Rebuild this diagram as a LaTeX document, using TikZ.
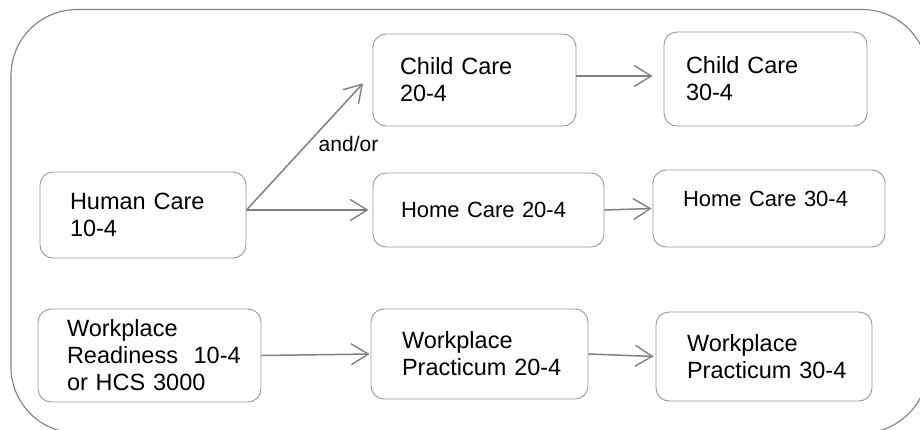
\documentclass[tikz,border=0pt]{standalone}
\usepackage{fontspec}
\setmainfont{Liberation Sans}
\usepackage{xcolor}
\usepackage{tikz}
\usetikzlibrary{arrows.meta}

\definecolor{linegray}{RGB}{128,128,128}
\definecolor{boxgray}{RGB}{150,150,150}

\begin{document}
\begin{tikzpicture}[x=1pt,y=-1pt,
    course/.style={draw=boxgray, line width=0.9pt, rounded corners=13pt, align=left,
      inner xsep=0pt, inner ysep=0pt, font=\fontsize{23.5}{27}\selectfont,
      execute at begin node={\leftskip=#1\relax}},
    course/.default=29pt,
    flow/.style={draw=linegray, line width=1.5pt,
      -{Straight Barb[length=17pt,width=21pt,line width=1.4pt]}}]

    \useasboundingbox (0,0) rectangle (920,429);
    \clip (0,0) rectangle (920,429);

    \draw[draw=linegray, line width=1.1pt, rounded corners=66pt] (11,9.5) rectangle (928,433);

    \node[course=30pt, text width=206pt, minimum height=86pt] (human) at (143,215) {Human Care\\10-4};

    \node[course=27pt, text width=203pt, minimum height=92pt] (child20) at (474.5,80) {Child Care\\20-4};
    \node[course=22pt, text width=203pt, minimum height=94pt] (child30) at (765.5,79) {Child Care\\30-4};

    \node[course=28pt, font=\fontsize{22}{27}\selectfont, text width=231pt, minimum height=74pt] (home20) at (488.5,210) {Home Care 20-4};
    \node[course=30pt, font=\fontsize{22}{27}\selectfont, text width=232pt, minimum height=77pt, text depth=19pt] (home30) at (769,208.5) {Home Care 30-4};

    \node[course=29pt, text width=223pt, minimum height=93pt] (ready) at (149.5,355.5) {Workplace\\Readiness\ \ 10-4\\or HCS 3000};
    \node[course=31pt, text width=217pt, minimum height=90pt] (prac20) at (479.5,354) {Workplace\\Practicum 20-4};
    \node[course=31pt, text width=216pt, minimum height=89pt] (prac30) at (764,356.5) {Workplace\\Practicum 30-4};

    \draw[flow, shorten >=14pt] (human.east |- home20.west) -- ([yshift=7pt]child20.west)
        node[pos=0.48, anchor=west, inner sep=0pt, xshift=11pt, font=\fontsize{21}{25}\selectfont] (andor) {and/or};
    \draw[flow, shorten >=4pt] (human.east |- home20.west) -- (home20.west);
    \draw[flow, shorten >=11pt] ([yshift=4pt]child20.east) -- ([yshift=3pt]child30.west);
    \draw[flow, shorten >=1pt] (home20.east) -- (home30.west);
    \draw[flow, shorten >=1pt] (ready.east) -- (prac20.west);
    \draw[flow, shorten >=2pt] (prac20.east) -- (prac30.west);

\end{tikzpicture}
\end{document}
